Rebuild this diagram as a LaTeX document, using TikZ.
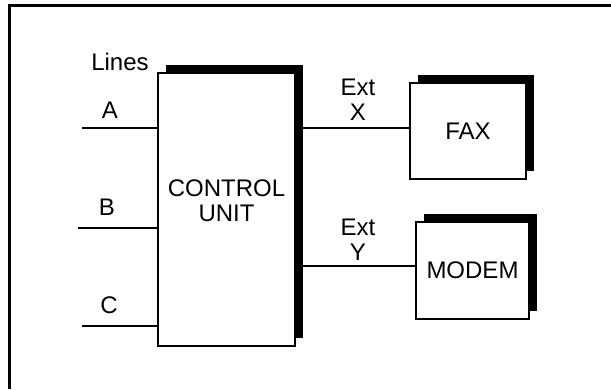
\documentclass[tikz,border=0pt]{standalone}
\usepackage{fontspec}
\setmainfont{Liberation Sans}
\usetikzlibrary{shadows}

\begin{document}
\begin{tikzpicture}[x=1pt, y=1pt,
  unit/.style={draw, fill=white, line width=2pt, font=\fontsize{24}{25}\selectfont, align=center,
    drop shadow={shadow xshift=8pt, shadow yshift=8pt, opacity=1, fill=black}},
  lbl/.style={font=\fontsize{24}{25}\selectfont, align=center, inner sep=0pt},
  wire/.style={line width=2pt}
]
\useasboundingbox (0,0) rectangle (611,389);
% frame
\draw[line width=3pt] (9,0) -- (9,383) -- (611,383);

\node[unit, minimum width=137pt, minimum height=273pt,
  label={[lbl, yshift=8.5pt]center:CONTROL\\UNIT}] (ctrl) at (226.5,179.5) {};
\node[unit, minimum width=116pt, minimum height=96pt] (fax) at (468,258) {FAX};
\node[unit, minimum width=113pt, minimum height=97pt] (modem) at (472.5,118.5) {MODEM};

\coordinate (a) at (82,261);
\coordinate (b) at (78,161);
\coordinate (c) at (82,63);

\node[lbl] (lines) at (120,327) {Lines};
\node[lbl] (la) at (110,279) {A};
\node[lbl] (lb) at (107,182) {B};
\node[lbl] (lc) at (109,84) {C};
\node[lbl] (extx) at (358,289) {Ext\\X};
\node[lbl] (exty) at (358,149) {Ext\\Y};

\draw[wire] (a) -- (a -| ctrl.west);
\draw[wire] (b) -- (b -| ctrl.west);
\draw[wire] (c) -- (c -| ctrl.west);
\draw[wire] (a -| ctrl.east) -- (a -| fax.west);
\draw[wire] ([yshift=4.5pt]modem.west -| ctrl.east) -- ([yshift=4.5pt]modem.west);
\end{tikzpicture}
\end{document}
